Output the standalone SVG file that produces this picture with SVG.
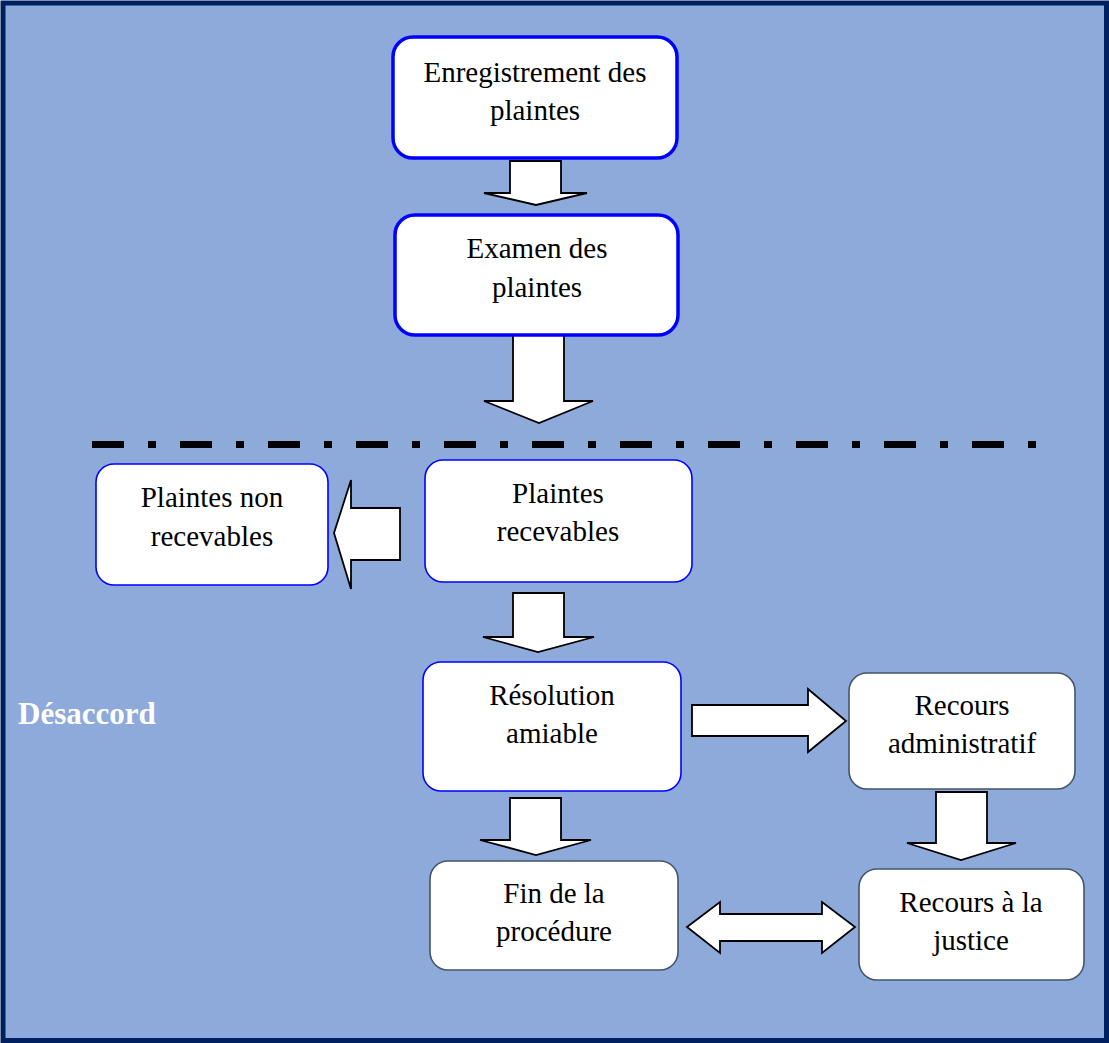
<svg xmlns="http://www.w3.org/2000/svg" width="1109" height="1043" viewBox="0 0 1109 1043">
<style>
.txt{font-family:"Liberation Serif","Times New Roman",serif;font-size:29px;fill:#000;text-anchor:middle}
.nb{fill:#fff;stroke:#0000FF;stroke-width:3.5}
.nt{fill:#fff;stroke:#0000FF;stroke-width:1.6}
.ng{fill:#fff;stroke:#44546A;stroke-width:1.6}
.arr{fill:#fff;stroke:#000;stroke-width:1.8;stroke-linejoin:miter}
</style>
<rect x="3" y="3" width="1103.5" height="1037.5" fill="#8EAADB" stroke="#002060" stroke-width="5"/>
<line x1="92" y1="444.5" x2="1036" y2="444.5" stroke="#000" stroke-width="7" stroke-dasharray="32 24 8 24"/>
<text x="18" y="724" style="font-family:'Liberation Serif','Times New Roman',serif;font-size:31px;font-weight:bold;fill:#fff">Désaccord</text>
<g id="connectors">
<polygon class="arr" points="510,161 561,161 561,193 587,193 536,205 484,193 510,193"/>
<polygon class="arr" points="513,335 564,335 564,401 593,401 539,423 484,401 513,401"/>
<polygon class="arr" points="400,508 400,560 351,560 351,589 334,533 351,480 351,508"/>
<polygon class="arr" points="513,593 564,593 564,637 594,637 538,652 483,637 513,637"/>
<polygon class="arr" points="692,705 808,705 808,689 846,721 808,752 808,736 692,736"/>
<polygon class="arr" points="510,798 561,798 561,840 591,840 536,855 480,840 510,840"/>
<polygon class="arr" points="936,792 987,792 987,843 1016,843 961,860 907,843 936,843"/>
<polygon class="arr" points="687,927 720,902 720,914 822,914 822,902 855,927 822,953 822,941 720,941 720,953"/>
</g>
<g id="n1"><rect class="nb" x="393" y="37" width="284" height="121" rx="20"/><text class="txt" x="535" y="82">Enregistrement des</text><text class="txt" x="535" y="120">plaintes</text></g>
<g id="n2"><rect class="nb" x="395" y="215" width="283" height="120" rx="20"/><text class="txt" x="537" y="258">Examen des</text><text class="txt" x="537" y="297">plaintes</text></g>
<g id="n3"><rect class="nt" x="96" y="464" width="232" height="121" rx="18"/><text class="txt" x="212" y="507">Plaintes non</text><text class="txt" x="212" y="546">recevables</text></g>
<g id="n4"><rect class="nt" x="425" y="460" width="267" height="122" rx="18"/><text class="txt" x="558" y="503">Plaintes</text><text class="txt" x="558" y="541">recevables</text></g>
<g id="n5"><rect class="nt" x="423" y="662" width="258" height="129" rx="18"/><text class="txt" x="552" y="705">Résolution</text><text class="txt" x="552" y="743">amiable</text></g>
<g id="n6"><rect class="ng" x="849" y="673" width="226" height="116" rx="18"/><text class="txt" x="962" y="715">Recours</text><text class="txt" x="962" y="753">administratif</text></g>
<g id="n7"><rect class="ng" x="430" y="861" width="248" height="109" rx="18"/><text class="txt" x="554" y="903">Fin de la</text><text class="txt" x="554" y="941">procédure</text></g>
<g id="n8"><rect class="ng" x="859" y="869" width="225" height="111" rx="18"/><text class="txt" x="971" y="912">Recours à la</text><text class="txt" x="971" y="950">justice</text></g>
</svg>
